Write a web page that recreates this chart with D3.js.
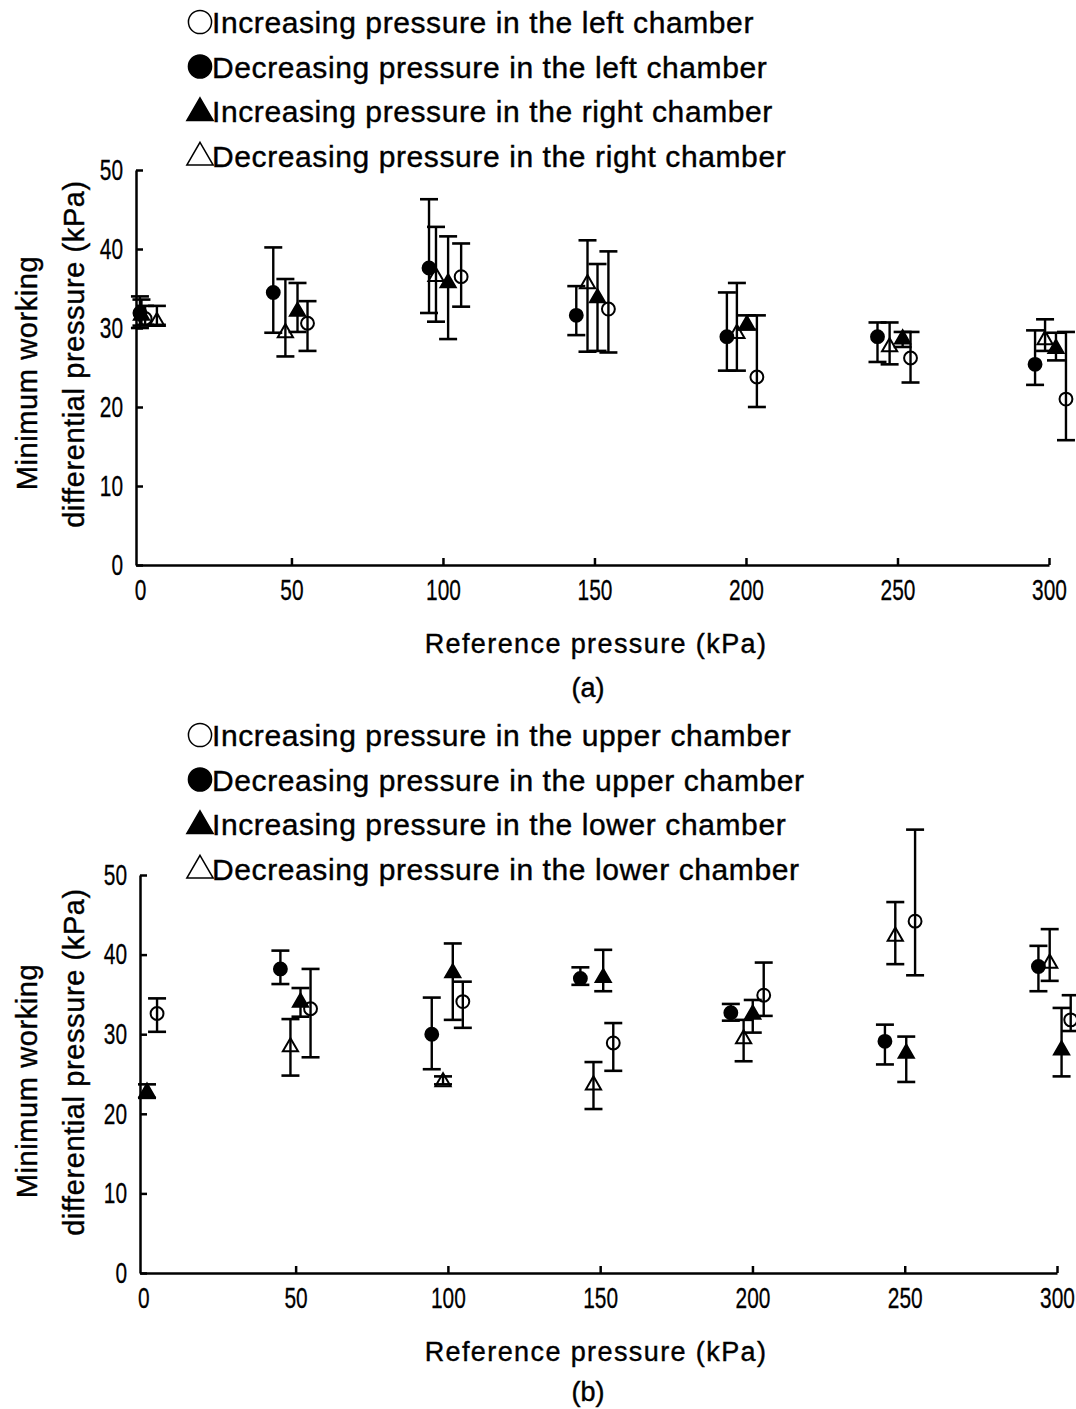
<!DOCTYPE html>
<html>
<head>
<meta charset="utf-8">
<script src="https://d3js.org/d3.v7.min.js"></script>
<style>
    body {margin: 0; background: #fff;}
    .tick text {font-family: "Liberation Sans", Arial, sans-serif;}
    .lbl {font-family: "Liberation Sans", Arial, sans-serif; fill: #000; stroke: #000; stroke-width: 0.4;}
</style>
</head>
<body>
<div id="chart"></div>
<script>
// each point: [reference pressure as plotted, mean, lower error, upper error]
var xTicks = [0, 50, 100, 150, 200, 250, 300];
var yTicks = [0, 10, 20, 30, 40, 50];

var legendA = ["Increasing pressure in the left chamber", "Decreasing pressure in the left chamber",
               "Increasing pressure in the right chamber", "Decreasing pressure in the right chamber"];
var legendB = ["Increasing pressure in the upper chamber", "Decreasing pressure in the upper chamber",
               "Increasing pressure in the lower chamber", "Decreasing pressure in the lower chamber"];

var aIncLeft = [[1.7, 31.2, 30.4, 32.8], [55.3, 30.6, 27.1, 33.4], [106, 36.5, 32.7, 40.7], [154.6, 32.4, 26.9, 39.7],
                [203.6, 23.8, 20.0, 31.6], [254.3, 26.2, 23.1, 29.5], [305.6, 21.0, 15.8, 29.5]];
var aDecLeft = [[0.0, 31.9, 30.0, 34.0], [44, 34.5, 29.4, 40.2], [95.4, 37.6, 31.9, 46.3], [144, 31.6, 29.1, 35.3],
                [193.7, 28.9, 24.6, 34.5], [243.4, 28.9, 25.7, 30.7], [295.4, 25.4, 22.8, 29.7]];
var aIncRight = [[0.5, 31.6, 30.3, 33.6], [52, 32.1, 29.5, 35.7], [101.7, 35.7, 28.6, 41.6], [151, 33.8, 27.1, 38.1],
                 [200.3, 30.4, 29.8, 31.6], [251.7, 28.6, 27.6, 29.5], [302.3, 27.4, 25.9, 29.4]];
var aDecRight = [[5.6, 30.8, 30.4, 32.8], [48, 29.4, 26.4, 36.2], [97.7, 36.5, 30.8, 42.8], [147.7, 35.6, 27.0, 41.1],
                 [197, 29.3, 24.6, 35.7], [247.4, 27.6, 25.4, 30.7], [298.7, 28.5, 27.1, 31.1]];

var bIncUpper = [[4.5, 32.6, 30.3, 34.5], [54.9, 33.2, 27.1, 38.2], [104.9, 34.1, 30.8, 36.6], [154.3, 28.9, 25.4, 31.4],
                 [203.7, 34.9, 32.3, 39.0], [253.4, 44.2, 37.4, 55.7], [304.5, 31.8, 30.4, 34.9]];
var bDecUpper = [[45, 38.2, 36.3, 40.5], [94.7, 30.0, 25.6, 34.6], [143.5, 37.0, 36.2, 38.4],
                 [192.9, 32.7, 31.7, 33.8], [243.5, 29.1, 26.2, 31.2], [293.9, 38.5, 35.4, 41.1]];
var bIncLower = [[1.2, 22.7, 22.0, 23.7], [51.6, 34.0, 32.2, 35.8], [101.6, 37.7, 31.8, 41.4], [151, 37.1, 35.4, 40.6],
                 [200.1, 32.5, 30.2, 34.3], [250.5, 27.6, 24.0, 29.7], [301.5, 28.0, 24.7, 33.3]];
var bDecLower = [[48.3, 28.4, 24.8, 31.9], [98.4, 24.0, 23.7, 24.7], [147.8, 23.6, 20.6, 26.5],
                 [197.1, 29.4, 26.6, 31.8], [246.9, 42.3, 38.8, 46.6], [297.6, 38.9, 36.7, 43.2]];

// marker types: open circle, filled circle, filled triangle, open triangle
var markers = [
    {shape: d3.symbolCircle, fill: "none"},
    {shape: d3.symbolCircle, fill: "#000"},
    {shape: d3.symbolTriangle, fill: "#000"},
    {shape: d3.symbolTriangle, fill: "none"}
];

var svg = d3.select("#chart").append("svg")
    .attr("width", 1076)
    .attr("height", 1409)
    .style("background", "#fff");

var squeeze = 0.72;   // tick numbers are a narrow face in the original

function drawPanel(p)
{
    var x = d3.scaleLinear().domain([p.xmin, 300]).range([p.left, p.right]);
    var y = d3.scaleLinear().domain([0, 50]).range([p.bottom, p.top]);
    var g = svg.append("g");

    // legend
    p.legend.forEach(function(txt, i) {
        var ly = p.legendY + i * 44.5;
        g.append("path")
            .attr("transform", "translate(" + 200 + "," + (ly - 11 + (i >= 2 ? 2 : 0)) + ")")
            .attr("d", d3.symbol().type(markers[i].shape).size(i >= 2 ? 300 : 420)())
            .attr("fill", markers[i].fill)
            .attr("stroke", "#000")
            .attr("stroke-width", 1.5);
        g.append("text").attr("class", "lbl")
            .attr("x", 212).attr("y", ly)
            .attr("font-size", 30).attr("letter-spacing", 0.6)
            .text(txt);
    });

    // axes
    var yAxis = g.append("g")
        .attr("transform", "translate(" + p.left + ",0)")
        .call(d3.axisLeft(y).tickValues(yTicks).tickSizeInner(-7).tickSizeOuter(0).tickPadding(13 / squeeze));
    var xAxis = g.append("g")
        .attr("transform", "translate(0," + p.bottom + ")")
        .call(d3.axisBottom(x).tickValues(xTicks).tickSizeInner(-7).tickSizeOuter(0).tickPadding(14));
    xAxis.selectAll(".tick").filter(function(d) { return d === 0; }).select("line").remove();
    [xAxis, yAxis].forEach(function(ax) {
        ax.select(".domain").attr("stroke-width", 2.5);
        ax.selectAll(".tick line").attr("stroke-width", 2.5);
        ax.selectAll(".tick text")
            .attr("font-size", 29).attr("fill", "#000")
            .attr("stroke", "#000").attr("stroke-width", 0.3)
            .attr("transform", "scale(" + squeeze + ",1)");
    });

    // axis titles
    g.append("text").attr("class", "lbl")
        .attr("x", 596).attr("y", p.bottom + 88)
        .attr("text-anchor", "middle").attr("font-size", 27).attr("letter-spacing", 1.4)
        .text("Reference pressure (kPa)");
    g.append("text").attr("class", "lbl")
        .attr("x", 588).attr("y", p.tagY)
        .attr("text-anchor", "middle").attr("font-size", 27)
        .text(p.tag);
    g.append("text").attr("class", "lbl")
        .attr("transform", "translate(37," + (p.bottom - 192) + ") rotate(-90)")
        .attr("text-anchor", "middle").attr("font-size", 29).attr("letter-spacing", 0.6)
        .text("Minimum working");
    g.append("text").attr("class", "lbl")
        .attr("transform", "translate(84," + (p.bottom - 211) + ") rotate(-90)")
        .attr("text-anchor", "middle").attr("font-size", 29).attr("letter-spacing", 0.6)
        .text("differential pressure (kPa)");

    // error bars and markers
    p.series.forEach(function(data, i) {
        var s = g.append("g");
        s.selectAll(".bar").data(data).enter().append("line")
            .attr("x1", function(d) { return x(d[0]); })
            .attr("x2", function(d) { return x(d[0]); })
            .attr("y1", function(d) { return y(d[2]); })
            .attr("y2", function(d) { return y(d[3]); })
            .attr("stroke", "#000").attr("stroke-width", 2.4);
        [2, 3].forEach(function(k) {
            s.selectAll(".cap" + k).data(data).enter().append("line")
                .attr("x1", function(d) { return x(d[0]) - 9; })
                .attr("x2", function(d) { return x(d[0]) + 9; })
                .attr("y1", function(d) { return y(d[k]); })
                .attr("y2", function(d) { return y(d[k]); })
                .attr("stroke", "#000").attr("stroke-width", 2.6);
        });
        s.selectAll(".mark").data(data).enter().append("path")
            .attr("transform", function(d) { return "translate(" + x(d[0]) + "," + y(d[1]) + ")"; })
            .attr("d", d3.symbol().type(markers[i].shape).size(i >= 2 ? 100 : 130)())
            .attr("fill", markers[i].fill)
            .attr("stroke", "#000")
            .attr("stroke-width", 2);
    });
}

drawPanel({left: 136, right: 1049, top: 170, bottom: 565, xmin: -1.3, legendY: 33, tag: "(a)", tagY: 697,
           legend: legendA, series: [aIncLeft, aDecLeft, aIncRight, aDecRight]});
drawPanel({left: 140, right: 1057, top: 875, bottom: 1273, xmin: -1.1, legendY: 746, tag: "(b)", tagY: 1401,
           legend: legendB, series: [bIncUpper, bDecUpper, bIncLower, bDecLower]});
</script>
</body>
</html>
